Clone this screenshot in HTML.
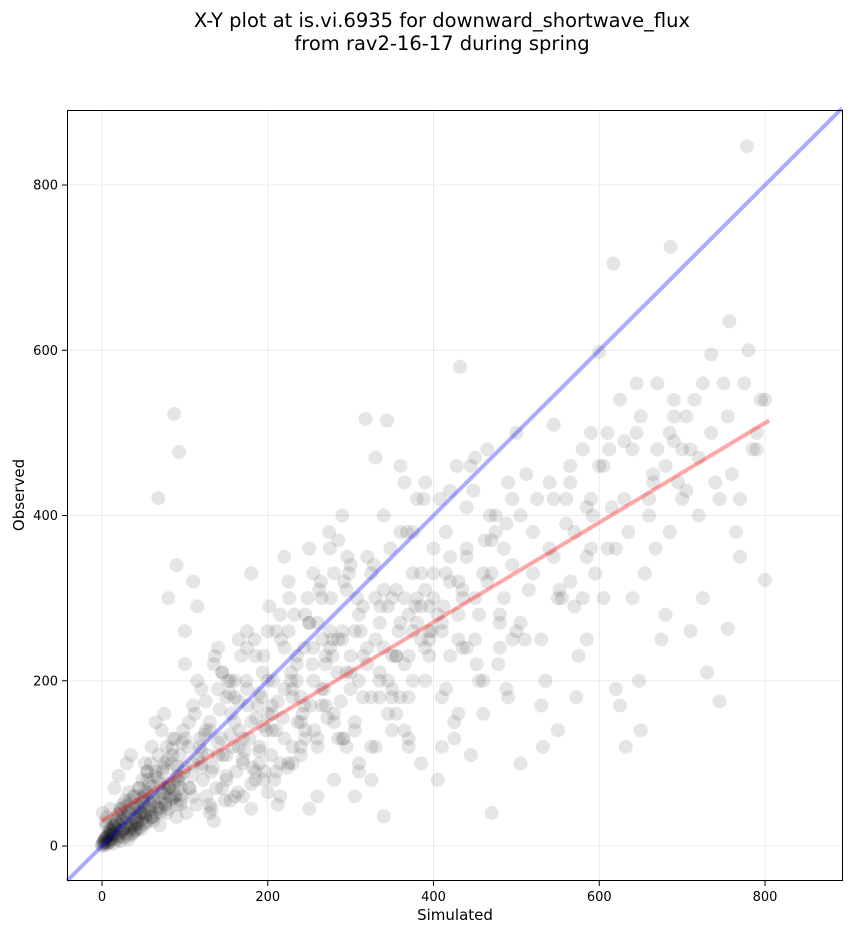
<!DOCTYPE html>
<html><head><meta charset="utf-8"><style>
body{margin:0;background:#fff;font-family:"Liberation Sans","DejaVu Sans",sans-serif}
svg text{font-family:"DejaVu Sans","Liberation Sans",sans-serif}
</style></head><body>
<svg id="chart" width="851" height="934" xmlns="http://www.w3.org/2000/svg">
<text x="442" y="27" text-anchor="middle" font-size="19.5">X-Y plot at is.vi.6935 for downward_shortwave_flux</text>
<text x="442" y="50" text-anchor="middle" font-size="19.5">from rav2-16-17 during spring</text>
<g id="grid"></g>
<g id="pts"></g>
<g id="lines"></g>
<rect x="67.5" y="110.5" width="775" height="770" fill="none" stroke="#000" stroke-width="1"/>
<g id="ticks"></g>
<text x="455" y="920" text-anchor="middle" font-size="15">Simulated</text>
<text transform="translate(24,495) rotate(-90)" text-anchor="middle" font-size="15">Observed</text>
</svg>
<script>
const xTicks=[0,200,400,600,800];
const yTicks=[0,200,400,600,800];
const simulated=[0,2,3,5,8,10,12,15,4,6,1,9,14,18,20,22,25,28,30,33,35,38,40,42,45,48,50,52,55,58,60,62,65,68,70,72,75,78,80,85,88,90,95,100,10,20,30,40,50,60,70,80,90,100,15,25,35,45,55,65,75,85,95,5,12,22,32,42,52,62,72,82,92,
105,110,115,120,125,130,135,140,145,150,155,160,165,170,175,180,185,190,195,200,105,115,125,135,145,155,165,175,185,195,110,120,130,140,150,160,170,180,190,200,100,110,120,130,140,87,93,68,80,75,90,100,118,132,145,
205,210,215,220,225,230,235,240,245,250,255,260,265,270,275,280,285,290,295,300,210,220,230,240,250,260,270,280,290,300,205,215,225,235,245,255,265,275,285,295,212,228,244,262,278,292,
305,310,315,320,325,330,335,340,345,350,355,360,365,370,375,380,385,390,395,400,310,320,330,340,350,360,370,380,390,400,305,318,344,325,335,355,365,375,385,395,340,350,360,370,
405,410,415,420,425,430,435,440,445,450,455,460,465,470,475,480,485,490,495,500,410,420,430,440,450,460,470,480,490,500,415,425,435,445,460,475,488,505,412,432,452,470,
505,515,525,535,545,555,565,575,585,595,510,520,530,540,550,560,570,580,590,600,512,532,552,572,592,590,505,545,565,585,
605,615,625,635,645,655,665,675,685,695,610,620,630,640,650,660,670,680,690,700,617,686,612,632,648,668,690,
705,715,725,735,745,755,765,775,785,795,710,720,730,740,750,760,770,780,790,800,778,757,800,745,755,720,735,770,790];
const observed=[2,5,8,10,12,15,20,22,30,35,40,18,25,30,10,40,20,55,35,50,25,60,45,30,70,40,55,35,80,50,65,30,90,45,75,55,100,40,70,110,60,85,50,95,45,85,100,20,60,120,25,75,35,130,70,50,110,40,90,150,70,130,55,25,15,45,65,20,100,35,140,60,80,
150,60,200,95,175,40,220,110,70,180,135,60,250,100,190,45,230,120,80,160,70,290,140,30,210,55,175,260,90,145,320,115,50,240,85,200,130,330,185,65,220,170,100,140,190,523,477,421,300,160,340,260,120,90,210,
140,260,60,190,320,100,230,150,280,45,200,120,300,170,360,80,250,130,310,210,90,350,180,110,270,60,230,150,400,340,160,280,100,220,140,330,190,240,370,120,50,200,170,310,250,130,
60,200,290,350,120,250,180,400,160,300,230,460,140,280,200,420,100,310,250,360,90,240,470,310,190,380,130,270,440,330,140,517,515,80,210,160,440,380,290,260,36,230,180,120,
80,270,190,430,150,320,240,360,110,470,280,200,480,330,400,240,300,180,420,500,120,350,250,410,300,160,370,270,440,260,380,130,310,460,330,380,190,400,290,580,220,40,
270,310,420,200,350,300,460,230,410,330,250,380,170,440,140,390,290,480,360,598,450,120,310,180,400,500,100,510,320,250,
460,410,170,380,500,330,440,250,380,440,360,190,490,300,140,420,560,280,490,480,705,725,480,120,200,360,540,
430,540,300,500,420,520,380,560,480,540,260,470,210,440,560,450,350,600,500,540,847,635,322,175,263,400,595,420,480];
const extraPoints=[[0,0],[1,3],[2,6],[3,1],[4,9],[5,4],[6,12],[7,2],[8,7],[9,15],[10,5],[11,18],[12,9],[13,25],[14,3],[15,14],[16,30],[17,8],[18,20],[19,38],[20,12],[21,26],[22,6],[23,44],[24,17],[25,33],[26,10],[27,22],[28,48],[29,15],[30,28],[31,40],[32,8],[33,20],[34,55],[35,32],[36,14],[37,45],[38,25],[39,60],[40,18],[41,35],[42,50],[43,28],[44,70],[45,22],[46,42],[47,58],[48,32],[49,80],[50,26],[51,48],[52,65],[53,38],[54,90],[55,30],[56,55],[57,75],[58,44],[59,100],[60,36],[62,60],[64,85],[66,48],[68,110],[70,40],[72,65],[74,95],[76,52],[78,120],[80,45],[82,72],[84,100],[86,58],[88,130],[90,50],[92,78],[94,110],[96,62],[98,140],
[3,5],[5,10],[7,4],[9,20],[11,8],[13,14],[15,24],[17,12],[19,28],[21,16],[23,32],[25,20],[27,36],[29,24],[31,12],[33,40],[35,22],[37,16],[39,34],[41,26],[43,46],[45,36],[47,20],[49,52],[51,40],[53,28],[55,64],[57,46],[59,34],[61,72],[63,52],[65,40],[67,82],[69,58],[71,46],[73,90],[75,64],[77,50],[79,104],[81,70],[83,56],[85,118],[87,76],[89,62],[91,96],[93,84],[95,70],[97,125],[99,90],
[102,40],[106,70],[110,100],[114,50],[118,130],[122,80],[126,60],[130,150],[134,95],[138,70],[142,165],[146,110],[150,80],[154,185],[158,120],[162,90],[166,140],[170,105],[174,200],[178,130],[182,95],[186,155],[190,115],[194,210],[198,140],[104,120],[112,160],[120,190],[128,110],[136,230],[144,130],[152,200],[160,150],[168,230],[176,170],[184,250],[192,180],[200,260],[108,85],[116,105],[124,135],[132,45],[140,125],[148,55],[156,160],[164,65],[172,115],[180,75],[188,170],[196,90],
[204,110],[212,175],[220,130],[228,210],[236,150],[244,240],[252,170],[260,270],[268,190],[276,300],[284,210],[292,320],[300,230],[208,80],[216,250],[224,95],[232,280],[240,120],[248,300],[256,140],[264,320],[272,155],[280,330],[288,175],[296,350],[206,200],[218,155],[230,190],[242,160],[254,220],[266,250],[278,230],[290,260],[202,290],[226,300],[250,360],[274,380],[298,330],
[305,150],[315,230],[325,180],[335,270],[345,200],[355,310],[365,220],[375,330],[385,250],[395,290],[310,100],[330,120],[350,140],[370,180],[390,200],[308,300],[328,340],[348,360],[368,380],[388,420],[312,260],[336,290],[358,260],[378,290],[398,260],
[405,280],[420,230],[435,300],[450,250],[465,320],[480,280],[495,340],[410,180],[430,160],[455,200],[478,220],[495,250],[408,420],[428,460],[448,430],[468,400],[488,390],[415,330],[440,350],[462,370],[485,360]];
const densePoints=[[150,110],[160,180],[170,60],[180,150],[190,100],[200,200],[210,140],[220,240],[230,120],[240,180],[250,270],[260,130],[270,220],[280,160],[290,250],[300,190],[310,280],[320,220],[330,300],[340,240],[350,180],[360,270],[370,230],[380,300],[390,240],[400,300],[410,260],[420,320],[430,280],[440,240],
[155,200],[165,120],[175,240],[185,80],[195,230],[205,170],[215,100],[225,260],[235,200],[245,130],[255,240],[265,170],[275,260],[285,130],[295,210],[305,260],[315,180],[325,330],[335,200],[345,290],[355,230],[365,300],[375,260],[385,330],[395,230],
[520,330],[540,360],[560,420],[580,300],[600,460],[620,360],[640,480],[660,400],[680,460],[700,420],[530,250],[550,300],[570,380],[590,420],[610,500],[630,420],[650,520],[670,480],[690,520],[710,480],[545,420],[565,440],[585,350],[605,300],[625,540],[645,560],[665,450],[685,500],[705,520],[725,560]];
const X0=102,XS=0.8288,Y0=846,YS=0.8262;
const sx=v=>X0+v*XS, sy=v=>Y0-v*YS;
const ns="http://www.w3.org/2000/svg";
const grid=document.getElementById('grid'),ticks=document.getElementById('ticks');
xTicks.forEach(t=>{
 const l=document.createElementNS(ns,'line');
 
 
 l.setAttribute('x1',sx(t));l.setAttribute('x2',sx(t));l.setAttribute('y1',110);l.setAttribute('y2',880);l.setAttribute('stroke','#ebebeb');grid.appendChild(l);
 const k=document.createElementNS(ns,'line');
 
 
 k.setAttribute('x1',sx(t));k.setAttribute('x2',sx(t));k.setAttribute('y1',881);k.setAttribute('y2',886);k.setAttribute('stroke','#000');ticks.appendChild(k);
 const tx=document.createElementNS(ns,'text');
 
 
 tx.setAttribute('x',sx(t));tx.setAttribute('y',901);tx.setAttribute('text-anchor','middle');tx.setAttribute('font-size','13');tx.textContent=t;ticks.appendChild(tx);
});
yTicks.forEach(t=>{
 const l=document.createElementNS(ns,'line');
 
 
 l.setAttribute('x1',67);l.setAttribute('x2',842);l.setAttribute('y1',sy(t));l.setAttribute('y2',sy(t));l.setAttribute('stroke','#ebebeb');grid.appendChild(l);
 const k=document.createElementNS(ns,'line');
 
 
 k.setAttribute('x1',62);k.setAttribute('x2',67);k.setAttribute('y1',sy(t));k.setAttribute('y2',sy(t));k.setAttribute('stroke','#000');ticks.appendChild(k);
 const tx=document.createElementNS(ns,'text');
 
 
 tx.setAttribute('x',58);tx.setAttribute('y',sy(t)+4.5);tx.setAttribute('text-anchor','end');tx.setAttribute('font-size','13');tx.textContent=t;ticks.appendChild(tx);
});
const pts=document.getElementById('pts');
function addPoint(x,y){
 const c=document.createElementNS(ns,'circle');
 
 
 c.setAttribute('cx',sx(x));c.setAttribute('cy',sy(y));c.setAttribute('r',7);c.setAttribute('fill','#000');c.setAttribute('fill-opacity','0.1');pts.appendChild(c);
}
simulated.forEach((v,i)=>{ if(observed[i]!==undefined) addPoint(v,observed[i]); });
extraPoints.forEach(p=>addPoint(p[0],p[1]));
densePoints.forEach(p=>addPoint(p[0],p[1]));
const lines=document.getElementById('lines');
const oneToOne=[-42,893];
const fitX=[0,805],fitY=[30,515];
const b=document.createElementNS(ns,'line');


b.setAttribute('x1',sx(oneToOne[0]));b.setAttribute('y1',sy(oneToOne[0]));b.setAttribute('x2',sx(oneToOne[1]));b.setAttribute('y2',sy(oneToOne[1]));
b.setAttribute('stroke','#0000ff');b.setAttribute('stroke-opacity','0.33');b.setAttribute('stroke-width','4');lines.appendChild(b);
const r=document.createElementNS(ns,'line');


r.setAttribute('x1',sx(fitX[0]));r.setAttribute('y1',sy(fitY[0]));r.setAttribute('x2',sx(fitX[1]));r.setAttribute('y2',sy(fitY[1]));
r.setAttribute('stroke','#ff0000');r.setAttribute('stroke-opacity','0.35');r.setAttribute('stroke-width','4');lines.appendChild(r);
</script>
</body></html>
